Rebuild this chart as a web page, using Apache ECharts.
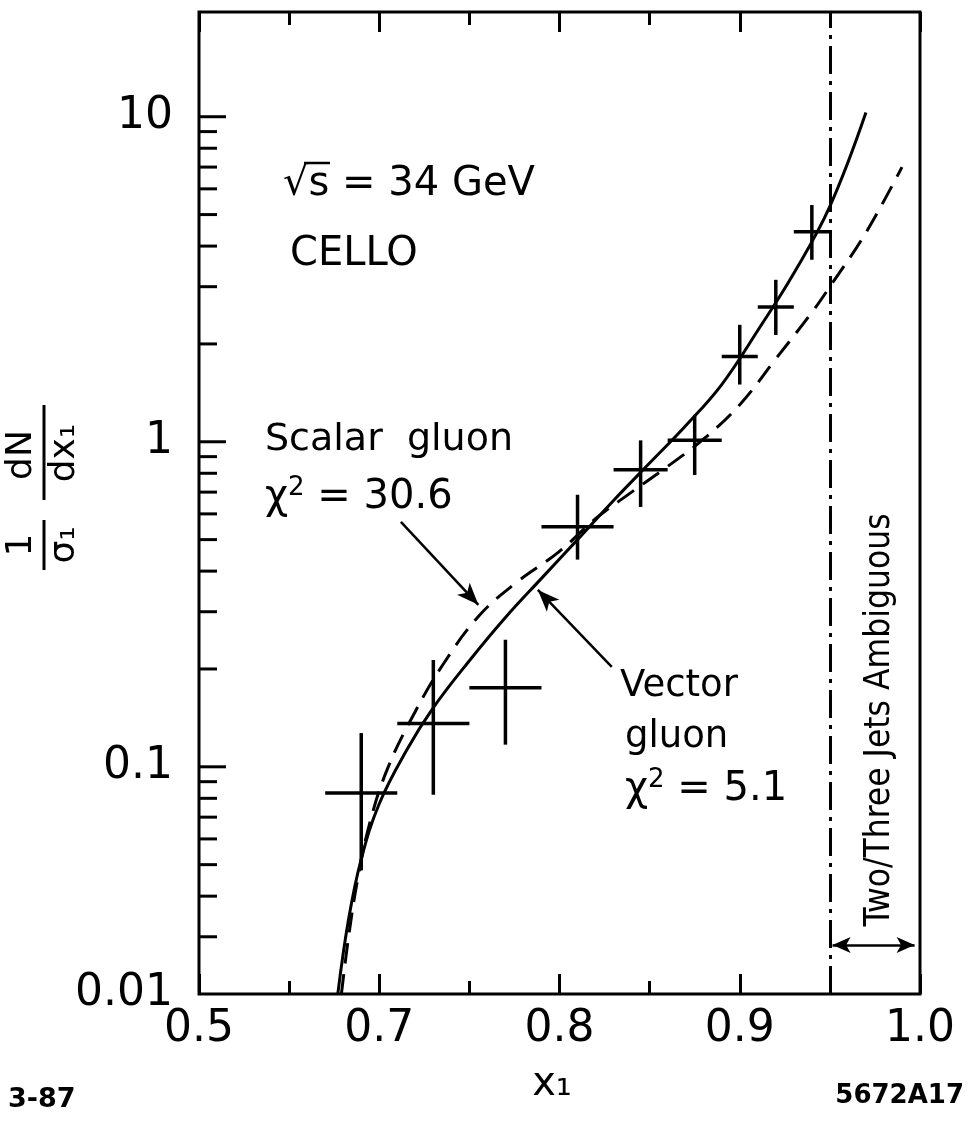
<!DOCTYPE html>
<html><head><meta charset="utf-8">
<script src="https://cdn.jsdelivr.net/npm/echarts@6/dist/echarts.min.js"></script>
<style>html,body{margin:0;padding:0;background:#fff}#c{width:968px;height:1128px}</style>
</head><body><div id="c"></div>
<script>
// ---- data ----
const binCenter = [0.69, 0.73, 0.77, 0.81, 0.845, 0.875, 0.90, 0.92, 0.94];
const binHalf   = [0.02, 0.02, 0.02, 0.02, 0.015, 0.015, 0.01, 0.01, 0.01];
const dataY     = [0.083, 0.136, 0.175, 0.548, 0.82, 1.01, 1.83, 2.6, 4.43];
const errLow    = [0.048, 0.082, 0.117, 0.434, 0.63, 0.79, 1.5, 2.13, 3.63];
const errHigh   = [0.127, 0.213, 0.246, 0.687, 1.01, 1.21, 2.29, 3.15, 5.35];

const vectorX = [0.677, 0.683, 0.690, 0.700, 0.715, 0.730, 0.750, 0.770, 0.790, 0.810, 0.830, 0.850, 0.870, 0.890, 0.910, 0.930, 0.950, 0.970];
const vectorY = [0.020, 0.034, 0.052, 0.077, 0.112, 0.152, 0.212, 0.288, 0.380, 0.500, 0.660, 0.860, 1.12, 1.50, 2.20, 3.30, 5.30, 10.3];

const scalarX = [0.679, 0.683, 0.688, 0.695, 0.705, 0.720, 0.735, 0.755, 0.775, 0.800, 0.820, 0.840, 0.860, 0.880, 0.900, 0.920, 0.940, 0.950, 0.970, 0.990];
const scalarY = [0.020, 0.030, 0.045, 0.068, 0.100, 0.148, 0.205, 0.290, 0.365, 0.460, 0.580, 0.700, 0.840, 1.02, 1.30, 1.80, 2.50, 3.00, 4.40, 7.00];

const ambiguousX = 0.95;

const xLabelValues = [0.6, 0.7, 0.8, 0.9, 1.0];
const xLabelTexts  = ['0.5', '0.7', '0.8', '0.9', '1.0'];
const yLabelValues = [0.02, 0.1, 1, 10];
const yLabelTexts  = ['0.01', '0.1', '1', '10'];
const yMajorTicks  = [0.1, 1, 10];
const yMinorTicks  = [0.03,0.04,0.05,0.06,0.07,0.08,0.09, 0.2,0.3,0.4,0.5,0.6,0.7,0.8,0.9, 2,3,4,5,6,7,8,9];

// ---- chart ----
const FONT = 'DejaVu Sans';
const chart = echarts.init(document.getElementById('c'), null, {renderer: 'canvas'});

function findLabel(v, vals, texts, log) {
  for (let i = 0; i < vals.length; i++) {
    const d = log ? Math.abs(Math.log10(v) - Math.log10(vals[i])) : Math.abs(v - vals[i]);
    if (d < 1e-4) return texts[i];
  }
  return '';
}

const xAxisCommon = {
  type: 'value', min: 0.6, max: 1.0, interval: 0.1,
  axisLine: {show: false},
  splitLine: {show: false},
  minorSplitLine: {show: false},
  axisTick: {show: true, inside: true, length: 20, lineStyle: {color: '#000', width: 3}},
  minorTick: {show: true, splitNumber: 2, length: 13, lineStyle: {color: '#000', width: 3}}
};

const tickData = yMajorTicks.map(v => [v, 1]).concat(yMinorTicks.map(v => [v, 0]));
const crossData = binCenter.map((c, i) => [c, dataY[i], binHalf[i], errLow[i], errHigh[i]]);

const richChi = {
  c: {fontSize: 40, fontFamily: FONT, fill: '#000', lineHeight: 46},
  s: {fontSize: 26, fontFamily: FONT, fill: '#000', lineHeight: 26, verticalAlign: 'top'}
};

chart.setOption({
  animation: false,
  backgroundColor: '#fff',
  grid: {left: 199, right: 48, top: 12, bottom: 134, show: true, borderColor: '#000', borderWidth: 3, backgroundColor: 'transparent'},
  xAxis: [
    Object.assign({}, xAxisCommon, {
      position: 'bottom',
      axisLabel: {show: true, margin: 14, color: '#000', fontSize: 44, fontFamily: FONT,
        formatter: v => findLabel(v, xLabelValues, xLabelTexts, false)}
    }),
    Object.assign({}, xAxisCommon, {position: 'top', axisLabel: {show: false}})
  ],
  yAxis: {
    type: 'log', logBase: 10, min: 0.02, max: 21,
    axisLine: {show: false}, axisTick: {show: false}, splitLine: {show: false},
    axisLabel: {show: true, margin: 26, color: '#000', fontSize: 44, fontFamily: FONT,
      showMinLabel: true, showMaxLabel: true,
      formatter: v => findLabel(v, yLabelValues, yLabelTexts, true)}
  },
  series: [
    {
      type: 'custom', name: 'yticks', xAxisIndex: 0, yAxisIndex: 0, silent: true,
      data: tickData, encode: {y: 0},
      renderItem: function (params, api) {
        const v = api.value(0), major = api.value(1);
        const p = api.coord([0.6, v]);
        const len = major ? 27 : 18;
        return {type: 'line', shape: {x1: p[0], y1: p[1], x2: p[0] + len, y2: p[1]},
          style: {stroke: '#000', lineWidth: 3}};
      }
    },
    {
      type: 'custom', name: 'data', xAxisIndex: 0, yAxisIndex: 0, silent: true,
      data: crossData, encode: {x: 0, y: 1},
      renderItem: function (params, api) {
        const xc = api.value(0), y = api.value(1), h = api.value(2), lo = api.value(3), hi = api.value(4);
        const l = api.coord([xc - h, y]), r = api.coord([xc + h, y]);
        const t = api.coord([xc, hi]), b = api.coord([xc, lo]);
        return {type: 'group', children: [
          {type: 'line', shape: {x1: l[0], y1: l[1], x2: r[0], y2: r[1]}, style: {stroke: '#000', lineWidth: 3.5}},
          {type: 'line', shape: {x1: t[0], y1: t[1], x2: b[0], y2: b[1]}, style: {stroke: '#000', lineWidth: 3.5}}
        ]};
      }
    },
    {
      type: 'line', name: 'Vector gluon', smooth: 0.4, showSymbol: false, silent: true,
      data: vectorX.map((x, i) => [x, vectorY[i]]),
      lineStyle: {color: '#000', width: 3},
      markLine: {
        silent: true, animation: false,
        label: {show: false},
        data: [
          [{coord: [ambiguousX, 0.02], symbol: 'none', lineStyle: {color: '#000', width: 3, type: [28, 7, 4, 7]}},
           {coord: [ambiguousX, 21], symbol: 'none'}],
          [{coord: [0.712, 0.567], symbol: 'none', lineStyle: {color: '#000', width: 2.5, type: 'solid'}},
           {coord: [0.755, 0.315], symbol: 'arrow', symbolSize: [13, 22]}],
          [{coord: [0.829, 0.203], symbol: 'none', lineStyle: {color: '#000', width: 2.5, type: 'solid'}},
           {coord: [0.788, 0.35], symbol: 'arrow', symbolSize: [13, 22]}],
          [{coord: [0.9515, 0.0283], symbol: 'arrow', symbolSize: [12, 18], lineStyle: {color: '#000', width: 2.5, type: 'solid'}},
           {coord: [0.997, 0.0283], symbol: 'arrow', symbolSize: [12, 18]}]
        ]
      }
    },
    {
      type: 'line', name: 'Scalar gluon', smooth: 0.4, showSymbol: false, silent: true,
      data: scalarX.map((x, i) => [x, scalarY[i]]),
      lineStyle: {color: '#000', width: 3, type: [20, 11]}
    }
  ],
  graphic: [
    {type: 'group', x: 44, y: 495, rotation: Math.PI / 2, children: [
      {type: 'text', x: -50, y: -4, style: {text: '1', fontSize: 36, fontFamily: FONT, fill: '#000', align: 'center', verticalAlign: 'bottom'}},
      {type: 'line', shape: {x1: -75, y1: 0, x2: -25, y2: 0}, style: {stroke: '#000', lineWidth: 3}},
      {type: 'text', x: -50, y: 3, style: {text: 'σ₁', fontSize: 36, fontFamily: FONT, fill: '#000', align: 'center', verticalAlign: 'top'}},
      {type: 'text', x: 40, y: -4, style: {text: 'dN', fontSize: 36, fontFamily: FONT, fill: '#000', align: 'center', verticalAlign: 'bottom'}},
      {type: 'line', shape: {x1: -5, y1: 0, x2: 90, y2: 0}, style: {stroke: '#000', lineWidth: 3}},
      {type: 'text', x: 42, y: 3, style: {text: 'dx₁', fontSize: 36, fontFamily: FONT, fill: '#000', align: 'center', verticalAlign: 'top'}}
    ]},
    {type: 'text', x: 283, y: 185, style: {text: '√s = 34 GeV', fontSize: 40, fontFamily: FONT, fill: '#000', verticalAlign: 'middle'}},
    {type: 'line', shape: {x1: 304, y1: 163, x2: 330, y2: 163}, style: {stroke: '#000', lineWidth: 2.5}},
    {type: 'text', x: 290, y: 255, style: {text: 'CELLO', fontSize: 40, fontFamily: FONT, fill: '#000', verticalAlign: 'middle'}},
    {type: 'text', x: 265, y: 440, style: {text: 'Scalar  gluon', fontSize: 38, fontFamily: FONT, fill: '#000', verticalAlign: 'middle'}},
    {type: 'text', x: 265, y: 498, style: {text: '{c|χ}{s|2}{c| = 30.6}', rich: richChi, verticalAlign: 'middle'}},
    {type: 'text', x: 620, y: 686, style: {text: 'Vector', fontSize: 37, fontFamily: FONT, fill: '#000', verticalAlign: 'middle'}},
    {type: 'text', x: 625, y: 737, style: {text: 'gluon', fontSize: 37, fontFamily: FONT, fill: '#000', verticalAlign: 'middle'}},
    {type: 'text', x: 625, y: 790, style: {text: '{c|χ}{s|2}{c| = 5.1}', rich: richChi, verticalAlign: 'middle'}},
    {type: 'text', x: 880, y: 720, rotation: Math.PI / 2, style: {text: 'Two/Three Jets Ambiguous', fontSize: 35, fontFamily: 'Liberation Sans Narrow, DejaVu Sans Condensed, Liberation Sans', fill: '#000', align: 'center', verticalAlign: 'middle'}},
    {type: 'text', x: 552, y: 1085, style: {text: 'x₁', fontSize: 40, fontFamily: FONT, fill: '#000', align: 'center', verticalAlign: 'middle'}},
    {type: 'text', x: 8, y: 1100, style: {text: '3-87', fontSize: 27, fontFamily: FONT, fontWeight: 'bold', fill: '#000', verticalAlign: 'middle'}},
    {type: 'text', x: 964, y: 1096, style: {text: '5672A17', fontSize: 26, fontFamily: FONT, fontWeight: 'bold', fill: '#000', align: 'right', verticalAlign: 'middle'}}
  ]
});
</script>
</body></html>
